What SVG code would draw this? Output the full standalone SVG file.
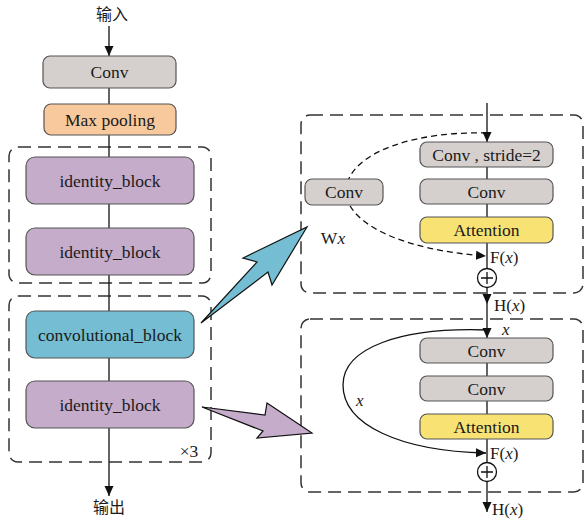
<svg xmlns="http://www.w3.org/2000/svg" width="584" height="519" viewBox="0 0 584 519" font-family="'Liberation Serif', 'Times New Roman', serif">
<defs>
<marker id="ah" markerUnits="userSpaceOnUse" markerWidth="10" markerHeight="10" viewBox="0 0 10 10" refX="10" refY="5" orient="auto">
<path d="M0,0.5 L10,5 L0,9.5 Z" fill="#111"/>
</marker>
<style>
text{font-family:"Liberation Serif","Times New Roman",serif;fill:#1a1a1a;}
.lbl{font-size:17.5px;text-anchor:middle;}
.sm{font-size:17px;}
.cjk{font-family:"Noto Sans CJK SC","Liberation Serif",sans-serif;font-size:16px;text-anchor:middle;}
.box{stroke:#555;stroke-width:1.2;}
.grey{fill:#d5d0cd;}
.orange{fill:#f8c99c;}
.purple{fill:#c5accb;}
.blue{fill:#74bdd2;}
.yellow{fill:#f9e274;}
.group{fill:none;stroke:#333;stroke-width:1.5;stroke-dasharray:13 7;}
.ln{stroke:#111;stroke-width:1.3;fill:none;}
.dl{stroke:#111;stroke-width:1.3;fill:none;stroke-dasharray:6 4;}
.it{font-style:italic;}
</style>
</defs>

<!-- dashed group boxes -->
<g id="group1"><rect class="group" x="9" y="147" width="202" height="136" rx="9"/></g>
<g id="group2"><rect class="group" x="9" y="296" width="202" height="166" rx="9"/><text x="189" y="457" class="lbl">×3</text></g>
<g id="group3"><rect class="group" x="301" y="115" width="282" height="178" rx="9"/></g>
<g id="group4"><rect class="group" x="301" y="319" width="282" height="173" rx="9"/></g>

<!-- connectors -->
<g id="connectors">
<line class="ln" x1="109" y1="26" x2="109" y2="56" marker-end="url(#ah)"/>
<line class="ln" x1="109" y1="88" x2="109" y2="104"/>
<line class="ln" x1="109" y1="135" x2="109" y2="157"/>
<line class="ln" x1="109" y1="204" x2="109" y2="228"/>
<line class="ln" x1="109" y1="275" x2="109" y2="311"/>
<line class="ln" x1="109" y1="358" x2="109" y2="381"/>
<line class="ln" x1="109" y1="428" x2="109" y2="496" marker-end="url(#ah)"/>

<line class="ln" x1="487" y1="103" x2="487" y2="142" marker-end="url(#ah)"/>
<line class="ln" x1="487" y1="167" x2="487" y2="179"/>
<line class="ln" x1="487" y1="204" x2="487" y2="217"/>
<line class="ln" x1="487" y1="243" x2="487" y2="268.5"/>
<path class="dl" d="M487,133 C420,131 352,150 346,188 C343,222 400,250 486,256" marker-end="url(#ah)"/>
<line class="ln" x1="487" y1="287.5" x2="487" y2="304" marker-end="url(#ah)"/>
<line class="ln" x1="487" y1="304" x2="487" y2="338" marker-end="url(#ah)"/>

<path class="ln" d="M487,330 C400,327 343,348 343,385 C343,425 400,451 486,453" marker-end="url(#ah)"/>
<line class="ln" x1="487" y1="363" x2="487" y2="376"/>
<line class="ln" x1="487" y1="401" x2="487" y2="414"/>
<line class="ln" x1="487" y1="439" x2="487" y2="462.5"/>
<line class="ln" x1="487" y1="481.5" x2="487" y2="512" marker-end="url(#ah)"/>

<polygon points="201,323 257,262 243,258 307,227 272,285 268,272" fill="#74bdd2" stroke="#111" stroke-width="1.2"/>
<polygon points="202,407 265,415 267,403 312,433 257,438 263,431" fill="#c5accb" stroke="#111" stroke-width="1.2"/>

<g id="sum1"><circle cx="487" cy="278" r="9.5" fill="#fff" stroke="#111" stroke-width="1.3"/><path class="ln" d="M481,278 H493 M487,272 V284"/></g>
<g id="sum2"><circle cx="487" cy="472" r="9.5" fill="#fff" stroke="#111" stroke-width="1.3"/><path class="ln" d="M481,472 H493 M487,466 V478"/></g>
</g>

<!-- texts -->
<text x="112" y="20" class="cjk">输入</text>
<text x="109" y="513" class="cjk">输出</text>

<!-- left nodes -->
<g id="conv0"><rect class="box grey" x="43" y="56" width="133" height="32" rx="7"/><text x="109.5" y="78" class="lbl">Conv</text></g>
<g id="maxpool"><rect class="box orange" x="44" y="104" width="132" height="31" rx="7"/><text x="110" y="126" class="lbl">Max pooling</text></g>
<g id="id1"><rect class="box purple" x="26" y="157" width="168" height="47" rx="9"/><text x="110" y="187" class="lbl">identity_block</text></g>
<g id="id2"><rect class="box purple" x="26" y="228" width="168" height="47" rx="9"/><text x="110" y="258" class="lbl">identity_block</text></g>
<g id="convblock"><rect class="box blue" x="26" y="311" width="168" height="47" rx="9"/><text x="110" y="341" class="lbl">convolutional_block</text></g>
<g id="id3"><rect class="box purple" x="26" y="381" width="168" height="47" rx="9"/><text x="110" y="411" class="lbl">identity_block</text></g>

<!-- top right nodes -->
<g id="convW"><rect class="box grey" x="305" y="179" width="78" height="26" rx="7"/><text x="344" y="198" class="lbl">Conv</text></g>
<text x="333" y="244" class="lbl">W<tspan class="it">x</tspan></text>
<g id="convS"><rect class="box grey" x="420" y="142" width="133" height="25" rx="7"/><text x="486.5" y="160.5" class="lbl">Conv , stride=2</text></g>
<g id="conv1"><rect class="box grey" x="420" y="179" width="133" height="25" rx="7"/><text x="486.5" y="197.5" class="lbl">Conv</text></g>
<g id="att1"><rect class="box yellow" x="420" y="217" width="133" height="26" rx="7"/><text x="486.5" y="236" class="lbl">Attention</text></g>
<text x="490" y="263" class="sm">F(<tspan class="it">x</tspan>)</text>
<text x="494" y="311" class="sm">H(<tspan class="it">x</tspan>)</text>

<!-- bottom right nodes -->
<text x="502" y="335" class="sm it">x</text>
<text x="356" y="406" class="sm it">x</text>
<g id="conv2"><rect class="box grey" x="420" y="338" width="133" height="25" rx="7"/><text x="486.5" y="356.5" class="lbl">Conv</text></g>
<g id="conv3"><rect class="box grey" x="420" y="376" width="133" height="25" rx="7"/><text x="486.5" y="394.5" class="lbl">Conv</text></g>
<g id="att2"><rect class="box yellow" x="420" y="414" width="133" height="25" rx="7"/><text x="486.5" y="432.5" class="lbl">Attention</text></g>
<text x="490" y="459" class="sm">F(<tspan class="it">x</tspan>)</text>
<text x="492" y="515" class="sm">H(<tspan class="it">x</tspan>)</text>
</svg>
